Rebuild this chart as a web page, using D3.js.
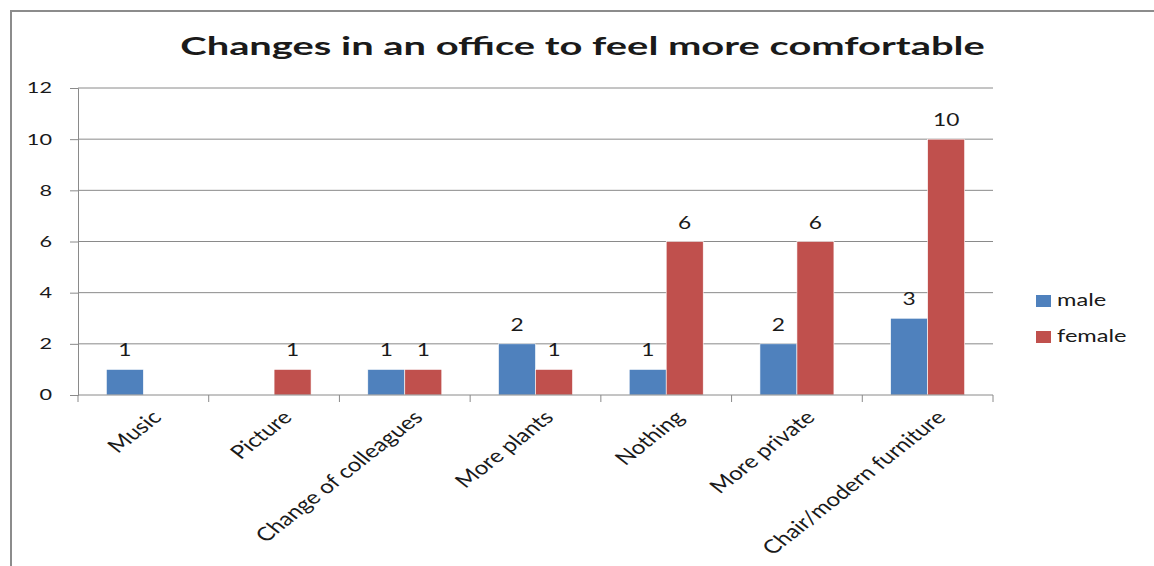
<!DOCTYPE html>
<html><head><meta charset="utf-8">
<script src="https://cdn.jsdelivr.net/npm/d3@7"></script>
<style>body{margin:0;background:#fff;} text{font-family:Lato,"Open Sans",sans-serif;fill:#1a1a1a;}</style>
</head><body>
<svg id="c" width="1154" height="566"></svg>
<script>
const categories = ["Music","Picture","Change of colleagues","More plants","Nothing","More private","Chair/modern furniture"];
const seriesNames = ["male","female"];
const maleValues = [1, null, 1, 2, 1, 2, 3];
const femaleValues = [null, 1, 1, 1, 6, 6, 10];
const yTicks = [0,2,4,6,8,10,12];
const colors = ["#4F81BD","#C0504D"];
const title = "Changes in an office to feel more comfortable";

(function(){
const SX = 1.27;
const svg = d3.select("#c");
svg.append("rect").attr("x",11).attr("y",11).attr("width",1160).attr("height",600)
  .attr("fill","none").attr("stroke","#8c8c8c").attr("stroke-width",2);

const pL=78, pR=993, pT=88, pB=395;
const x = d3.scaleBand().domain(categories).range([pL,pR]).paddingInner(0.434).paddingOuter(0.217);
const xg = d3.scaleBand().domain(seriesNames).range([0,x.bandwidth()]);
const y = d3.scaleLinear().domain([0,12]).range([pB,pT]);

svg.append("g").selectAll("line").data(yTicks.filter(d=>d>0)).join("line")
  .attr("x1",pL).attr("x2",pR).attr("y1",d=>y(d)).attr("y2",d=>y(d))
  .attr("stroke","#8a8a8a").attr("stroke-width",1);

const ya = svg.append("g").attr("transform",`translate(${pL},0)`)
  .call(d3.axisLeft(y).tickValues(yTicks).tickSize(8).tickPadding(18));
ya.select(".domain").attr("stroke","#8a8a8a");
ya.selectAll("line").attr("stroke","#8a8a8a");
ya.selectAll(".tick text").each(function(){
  const t = d3.select(this);
  const xx = +t.attr("x");
  t.attr("x",0).attr("transform",`translate(${xx},0) scale(1.4,1)`)
   .attr("font-size",15.5).attr("font-family","Lato,sans-serif").attr("fill","#1a1a1a");
});

const data = categories.map((c,i)=>({cat:c, vals:[maleValues[i], femaleValues[i]]}));
const groups = svg.append("g").selectAll("g").data(data).join("g")
  .attr("transform",d=>`translate(${x(d.cat)},0)`);
groups.selectAll("rect").data(d=>d.vals.map((v,j)=>({v,s:seriesNames[j],j})).filter(e=>e.v!=null)).join("rect")
  .attr("x",e=>xg(e.s)).attr("width",xg.bandwidth())
  .attr("y",e=>y(e.v)).attr("height",e=>y(0)-y(e.v))
  .attr("fill",e=>colors[e.j]).attr("stroke","#fff").attr("stroke-width",0.6);
groups.selectAll("text").data(d=>d.vals.map((v,j)=>({v,s:seriesNames[j],j})).filter(e=>e.v!=null)).join("text")
  .attr("transform",e=>`translate(${xg(e.s)+xg.bandwidth()/2},${y(e.v)-13}) scale(1.3,1)`)
  .attr("text-anchor","middle").attr("font-size",17.5).text(e=>e.v);

const xTickPos = d3.range(categories.length+1).map(i=>pL+i*(pR-pL)/categories.length);
svg.append("line").attr("x1",pL).attr("x2",pR).attr("y1",pB).attr("y2",pB).attr("stroke","#8a8a8a");
svg.append("g").selectAll("line").data(xTickPos).join("line")
  .attr("x1",d=>d).attr("x2",d=>d).attr("y1",pB).attr("y2",pB+7).attr("stroke","#8a8a8a");
svg.append("g").selectAll("text").data(categories).join("text")
  .attr("transform",d=>`translate(${x(d)+x.bandwidth()/2+7},${pB+14}) scale(${SX},1) rotate(-45)`)
  .attr("text-anchor","end").attr("font-size",19).attr("dy","0.72em").text(d=>d);

const tt = svg.append("text").attr("text-anchor","middle")
  .attr("font-size",25).attr("font-weight","bold").attr("fill","#0d0d0d").text(title);
const w = tt.node().getComputedTextLength();
const tsx = 805 / w;
tt.attr("transform",`translate(582.5,55) scale(${tsx},1)`);

const lg = svg.append("g").selectAll("g").data(seriesNames).join("g")
  .attr("transform",(d,i)=>`translate(1036,${295+i*36})`);
lg.append("rect").attr("width",15).attr("height",12).attr("fill",(d,i)=>colors[i]);
lg.append("text").attr("transform","translate(21,11) scale(1.35,1)").attr("font-size",17.5).text(d=>d);
})();
</script>
</body></html>
